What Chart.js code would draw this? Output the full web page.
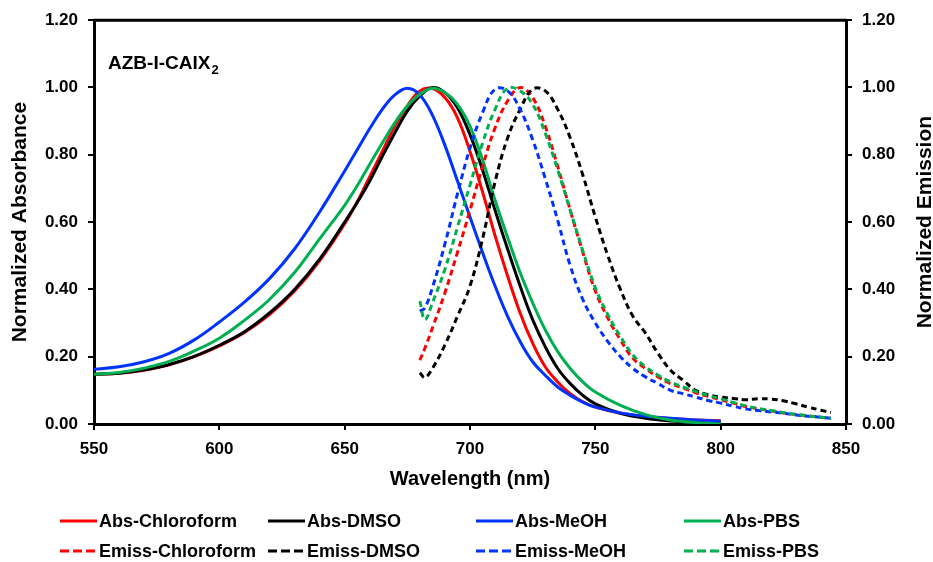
<!DOCTYPE html>
<html>
<head>
<meta charset="utf-8">
<script src="https://cdn.jsdelivr.net/npm/chart.js@4.4.0/dist/chart.umd.min.js"></script>
<style>
  html, body { margin: 0; padding: 0; background: #fff; }
  #wrap { width: 933px; height: 562px; position: relative; }
</style>
</head>
<body>
<div id="wrap"><canvas id="chart"></canvas></div>
<script>
// ==================== DADOS ====================
const absWl = [550, 560, 570, 580, 590, 600, 610, 620, 630, 640, 650, 655, 660, 665, 670, 675, 680, 685,
  690, 695, 700, 705, 710, 715, 720, 725, 730, 735, 740, 745, 750, 760, 770, 780, 790, 800];

const absChloroform = [0.148, 0.151, 0.160, 0.176, 0.200, 0.232, 0.272, 0.325, 0.395, 0.485, 0.595, 0.660, 0.735, 0.810, 0.885, 0.945, 0.990, 0.997,
  0.970, 0.910, 0.810, 0.690, 0.560, 0.440, 0.330, 0.240, 0.170, 0.125, 0.090, 0.066, 0.050, 0.032, 0.022, 0.016, 0.012, 0.010];
const absDMSO = [0.148, 0.151, 0.161, 0.177, 0.201, 0.234, 0.274, 0.330, 0.400, 0.490, 0.600, 0.658, 0.722, 0.795, 0.865, 0.930, 0.975, 1.000,
  0.985, 0.940, 0.860, 0.755, 0.635, 0.520, 0.410, 0.310, 0.230, 0.165, 0.120, 0.085, 0.060, 0.032, 0.017, 0.009, 0.005, 0.003];
const absMeOH = [0.163, 0.170, 0.185, 0.210, 0.250, 0.303, 0.362, 0.432, 0.520, 0.630, 0.752, 0.815, 0.878, 0.935, 0.978, 0.998, 0.978, 0.918,
  0.828, 0.722, 0.615, 0.510, 0.410, 0.320, 0.245, 0.185, 0.145, 0.110, 0.085, 0.065, 0.050, 0.033, 0.023, 0.017, 0.012, 0.009];
const absPBS = [0.148, 0.153, 0.166, 0.186, 0.217, 0.255, 0.308, 0.370, 0.450, 0.550, 0.650, 0.708, 0.772, 0.835, 0.895, 0.945, 0.980, 0.998,
  0.985, 0.950, 0.885, 0.785, 0.665, 0.555, 0.450, 0.360, 0.280, 0.215, 0.165, 0.125, 0.095, 0.055, 0.028, 0.012, 0.004, 0.000];

const emWl = [680, 682, 685, 690, 695, 700, 705, 710, 715, 720, 725, 730, 735, 740, 745, 750, 755, 760, 765, 770,
  775, 780, 785, 790, 795, 800, 805, 810, 815, 820, 825, 830, 835, 840, 844];

const emChloroform = [0.190, 0.225, 0.285, 0.390, 0.510, 0.635, 0.765, 0.880, 0.960, 1.000, 0.970, 0.885, 0.765, 0.635, 0.510, 0.395, 0.315, 0.250, 0.195, 0.165,
  0.140, 0.120, 0.107, 0.093, 0.082, 0.072, 0.062, 0.052, 0.045, 0.039, 0.033, 0.028, 0.024, 0.020, 0.017];
const emDMSO = [0.152, 0.138, 0.165, 0.235, 0.320, 0.410, 0.550, 0.720, 0.850, 0.935, 0.995, 0.990, 0.935, 0.850, 0.740, 0.615, 0.500, 0.400, 0.320, 0.270,
  0.210, 0.160, 0.130, 0.100, 0.087, 0.080, 0.076, 0.072, 0.075, 0.074, 0.069, 0.060, 0.050, 0.041, 0.034];
const emMeOH = [0.335, 0.345, 0.405, 0.535, 0.684, 0.820, 0.925, 0.995, 0.990, 0.935, 0.845, 0.730, 0.605, 0.470, 0.370, 0.300, 0.245, 0.200, 0.165, 0.140,
  0.120, 0.100, 0.090, 0.080, 0.070, 0.062, 0.053, 0.045, 0.040, 0.036, 0.032, 0.027, 0.023, 0.020, 0.017];
const emPBS = [0.365, 0.310, 0.360, 0.460, 0.585, 0.710, 0.835, 0.935, 0.998, 0.990, 0.950, 0.865, 0.755, 0.635, 0.515, 0.405, 0.325, 0.260, 0.205, 0.170,
  0.145, 0.125, 0.110, 0.097, 0.085, 0.075, 0.064, 0.054, 0.046, 0.040, 0.034, 0.029, 0.024, 0.020, 0.017];

const seriesLabels = ['Abs-Chloroform', 'Abs-DMSO', 'Abs-MeOH', 'Abs-PBS',
  'Emiss-Chloroform', 'Emiss-DMSO', 'Emiss-MeOH', 'Emiss-PBS'];
const yTicks = [0, 0.2, 0.4, 0.6, 0.8, 1.0, 1.2];
const xTicks = [550, 600, 650, 700, 750, 800, 850];

// ==================== ESTILO ====================
const FONT = "'Liberation Sans', Arial, sans-serif";
const cores = ['#ff0000', '#000000', '#0033ff', '#00b050'];
const DASH = [6, 4];

Chart.defaults.font.family = FONT;
Chart.defaults.font.weight = 'bold';
Chart.defaults.color = '#000';

function pares(xs, ys) {
  return xs.map((x, i) => ({ x: x, y: ys[i] }));
}

const absSeries = [absChloroform, absDMSO, absMeOH, absPBS];
const emSeries = [emChloroform, emDMSO, emMeOH, emPBS];

const datasets = [];
absSeries.forEach((ys, i) => {
  datasets.push({
    label: seriesLabels[i],
    data: pares(absWl, ys),
    borderColor: cores[i],
    borderWidth: 3,
    yAxisID: 'y',
    order: 8 - i
  });
});
emSeries.forEach((ys, i) => {
  datasets.push({
    label: seriesLabels[4 + i],
    data: pares(emWl, ys),
    borderColor: cores[i],
    borderWidth: 3,
    borderDash: DASH,
    yAxisID: 'y2',
    order: 4 - i
  });
});

// ==================== PLUGIN: moldura, títulos, legenda ====================
const extras = {
  id: 'extras',
  afterDraw(chart) {
    const ctx = chart.ctx;
    const a = chart.chartArea;
    ctx.save();

    // borda superior
    ctx.strokeStyle = '#000';
    ctx.lineWidth = 3;
    ctx.setLineDash([]);
    ctx.beginPath();
    ctx.moveTo(a.left - 1, a.top);
    ctx.lineTo(a.right + 1, a.top);
    ctx.stroke();

    ctx.fillStyle = '#000';

    // anotação do composto
    ctx.font = 'bold 19px ' + FONT;
    ctx.textAlign = 'left';
    ctx.textBaseline = 'alphabetic';
    ctx.fillText('AZB-I-CAIX', 108, 69);
    const w = ctx.measureText('AZB-I-CAIX').width;
    ctx.font = 'bold 13px ' + FONT;
    ctx.fillText('2', 108 + w + 1, 74);

    // títulos dos eixos
    ctx.font = 'bold 20px ' + FONT;
    ctx.textAlign = 'center';
    ctx.textBaseline = 'middle';
    ctx.fillText('Wavelength (nm)', (a.left + a.right) / 2, 479);

    ctx.font = 'bold 21px ' + FONT;
    ctx.save();
    ctx.translate(20, (a.top + a.bottom) / 2);
    ctx.rotate(-Math.PI / 2);
    ctx.fillText('Normalized Absorbance', 0, 0);
    ctx.restore();

    ctx.save();
    ctx.translate(925, (a.top + a.bottom) / 2);
    ctx.rotate(-Math.PI / 2);
    ctx.fillText('Normalized Emission', 0, 0);
    ctx.restore();

    // legenda (2 linhas x 4 colunas)
    const colX = [60, 268, 476, 684];
    const rowY = [521, 551];
    ctx.font = 'bold 18px ' + FONT;
    ctx.textAlign = 'left';
    ctx.textBaseline = 'middle';
    chart.data.datasets.forEach((ds, i) => {
      const x = colX[i % 4];
      const y = rowY[Math.floor(i / 4)];
      ctx.strokeStyle = ds.borderColor;
      ctx.lineWidth = 3;
      ctx.setLineDash(ds.borderDash ? [9, 4] : []);
      ctx.beginPath();
      ctx.moveTo(x, y);
      ctx.lineTo(x + 37, y);
      ctx.stroke();
      ctx.setLineDash([]);
      ctx.fillStyle = '#000';
      ctx.fillText(ds.label, x + 39, y + 1);
    });

    ctx.restore();
  }
};

// ==================== GRÁFICO ====================
const eixoY = (pos, largura) => ({
  type: 'linear',
  position: pos,
  min: 0,
  max: 1.2,
  afterBuildTicks: (s) => { s.ticks = yTicks.map(v => ({ value: v })); },
  afterFit: (s) => { s.width = largura; },
  ticks: {
    font: { size: 17, weight: 'bold' },
    color: '#000',
    padding: 10,
    callback: (v) => Number(v).toFixed(2)
  },
  grid: { drawOnChartArea: false, drawTicks: true, tickLength: 6, color: '#000', lineWidth: 2 },
  border: { display: true, color: '#000', width: 3 }
});

new Chart(document.getElementById('chart'), {
  type: 'line',
  data: { datasets: datasets },
  options: {
    responsive: true,
    maintainAspectRatio: false,
    animation: false,
    layout: { padding: { top: 19, left: 0, right: 0, bottom: 0 } },
    elements: {
      point: { radius: 0 },
      line: { tension: 0.4, fill: false }
    },
    plugins: {
      legend: { display: false },
      tooltip: { enabled: false }
    },
    scales: {
      x: {
        type: 'linear',
        min: 550,
        max: 850,
        afterBuildTicks: (s) => { s.ticks = xTicks.map(v => ({ value: v })); },
        afterFit: (s) => { s.height = 138; },
        ticks: { font: { size: 17, weight: 'bold' }, color: '#000', padding: 9, maxRotation: 0 },
        grid: { drawOnChartArea: false, drawTicks: true, tickLength: 6, color: '#000', lineWidth: 2 },
        border: { display: true, color: '#000', width: 3 }
      },
      y: eixoY('left', 94),
      y2: eixoY('right', 87)
    }
  },
  plugins: [extras]
});
</script>
</body>
</html>
